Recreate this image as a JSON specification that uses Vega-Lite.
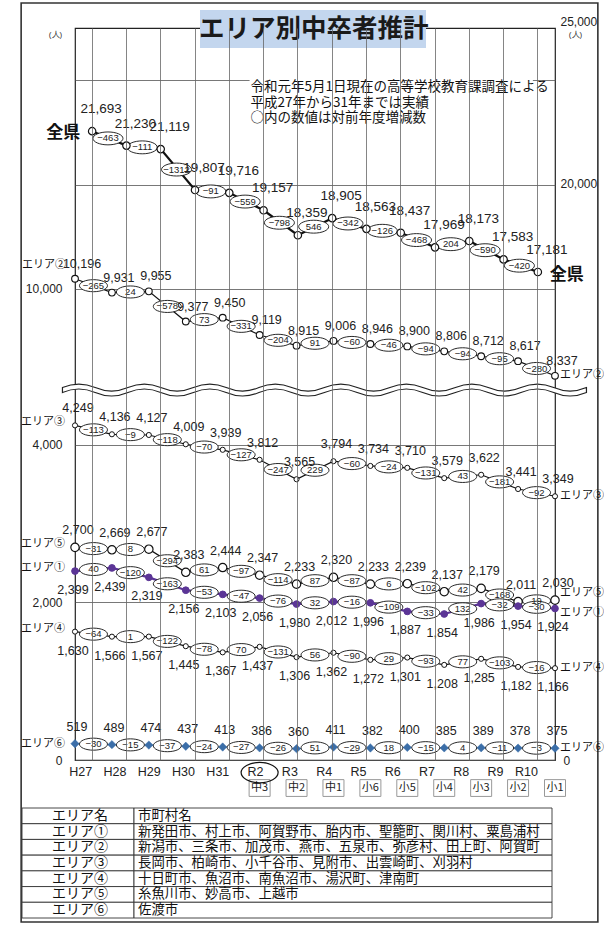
{
"$schema":"https://vega.github.io/schema/vega-lite/v6.json",
"width":480,"height":732,
"autosize":{"type":"none"},
"padding":{"left":75,"top":28,"right":49,"bottom":166},
"background":"white",
"config":{"view":{"stroke":"#222","strokeWidth":1.2}},
"datasets":{
"pts":[
{"area":"全県","year":"H27","fy":2015,"value":21693},
{"area":"全県","year":"H28","fy":2016,"value":21230,"diff":-463},
{"area":"全県","year":"H29","fy":2017,"value":21119,"diff":-111},
{"area":"全県","year":"H30","fy":2018,"value":19807,"diff":-1312},
{"area":"全県","year":"H31","fy":2019,"value":19716,"diff":-91},
{"area":"全県","year":"R2","fy":2020,"value":19157,"diff":-559},
{"area":"全県","year":"R3","fy":2021,"value":18359,"diff":-798},
{"area":"全県","year":"R4","fy":2022,"value":18905,"diff":546},
{"area":"全県","year":"R5","fy":2023,"value":18563,"diff":-342},
{"area":"全県","year":"R6","fy":2024,"value":18437,"diff":-126},
{"area":"全県","year":"R7","fy":2025,"value":17969,"diff":-468},
{"area":"全県","year":"R8","fy":2026,"value":18173,"diff":204},
{"area":"全県","year":"R9","fy":2027,"value":17583,"diff":-590},
{"area":"全県","year":"R10","fy":2028,"value":17181,"diff":-420},
{"area":"エリア②","year":"H27","fy":2015,"value":10196},
{"area":"エリア②","year":"H28","fy":2016,"value":9931,"diff":-265},
{"area":"エリア②","year":"H29","fy":2017,"value":9955,"diff":24},
{"area":"エリア②","year":"H30","fy":2018,"value":9377,"diff":-578},
{"area":"エリア②","year":"H31","fy":2019,"value":9450,"diff":73},
{"area":"エリア②","year":"R2","fy":2020,"value":9119,"diff":-331},
{"area":"エリア②","year":"R3","fy":2021,"value":8915,"diff":-204},
{"area":"エリア②","year":"R4","fy":2022,"value":9006,"diff":91},
{"area":"エリア②","year":"R5","fy":2023,"value":8946,"diff":-60},
{"area":"エリア②","year":"R6","fy":2024,"value":8900,"diff":-46},
{"area":"エリア②","year":"R7","fy":2025,"value":8806,"diff":-94},
{"area":"エリア②","year":"R8","fy":2026,"value":8712,"diff":-94},
{"area":"エリア②","year":"R9","fy":2027,"value":8617,"diff":-95},
{"area":"エリア②","year":"R10","fy":2028,"value":8337,"diff":-280},
{"area":"エリア③","year":"H27","fy":2015,"value":4249},
{"area":"エリア③","year":"H28","fy":2016,"value":4136,"diff":-113},
{"area":"エリア③","year":"H29","fy":2017,"value":4127,"diff":-9},
{"area":"エリア③","year":"H30","fy":2018,"value":4009,"diff":-118},
{"area":"エリア③","year":"H31","fy":2019,"value":3939,"diff":-70},
{"area":"エリア③","year":"R2","fy":2020,"value":3812,"diff":-127},
{"area":"エリア③","year":"R3","fy":2021,"value":3565,"diff":-247},
{"area":"エリア③","year":"R4","fy":2022,"value":3794,"diff":229},
{"area":"エリア③","year":"R5","fy":2023,"value":3734,"diff":-60},
{"area":"エリア③","year":"R6","fy":2024,"value":3710,"diff":-24},
{"area":"エリア③","year":"R7","fy":2025,"value":3579,"diff":-131},
{"area":"エリア③","year":"R8","fy":2026,"value":3622,"diff":43},
{"area":"エリア③","year":"R9","fy":2027,"value":3441,"diff":-181},
{"area":"エリア③","year":"R10","fy":2028,"value":3349,"diff":-92},
{"area":"エリア⑤","year":"H27","fy":2015,"value":2700},
{"area":"エリア⑤","year":"H28","fy":2016,"value":2669,"diff":-31},
{"area":"エリア⑤","year":"H29","fy":2017,"value":2677,"diff":8},
{"area":"エリア⑤","year":"H30","fy":2018,"value":2383,"diff":-294},
{"area":"エリア⑤","year":"H31","fy":2019,"value":2444,"diff":61},
{"area":"エリア⑤","year":"R2","fy":2020,"value":2347,"diff":-97},
{"area":"エリア⑤","year":"R3","fy":2021,"value":2233,"diff":-114},
{"area":"エリア⑤","year":"R4","fy":2022,"value":2320,"diff":87},
{"area":"エリア⑤","year":"R5","fy":2023,"value":2233,"diff":-87},
{"area":"エリア⑤","year":"R6","fy":2024,"value":2239,"diff":6},
{"area":"エリア⑤","year":"R7","fy":2025,"value":2137,"diff":-102},
{"area":"エリア⑤","year":"R8","fy":2026,"value":2179,"diff":42},
{"area":"エリア⑤","year":"R9","fy":2027,"value":2011,"diff":-168},
{"area":"エリア⑤","year":"R10","fy":2028,"value":2030,"diff":19},
{"area":"エリア①","year":"H27","fy":2015,"value":2399},
{"area":"エリア①","year":"H28","fy":2016,"value":2439,"diff":40},
{"area":"エリア①","year":"H29","fy":2017,"value":2319,"diff":-120},
{"area":"エリア①","year":"H30","fy":2018,"value":2156,"diff":-163},
{"area":"エリア①","year":"H31","fy":2019,"value":2103,"diff":-53},
{"area":"エリア①","year":"R2","fy":2020,"value":2056,"diff":-47},
{"area":"エリア①","year":"R3","fy":2021,"value":1980,"diff":-76},
{"area":"エリア①","year":"R4","fy":2022,"value":2012,"diff":32},
{"area":"エリア①","year":"R5","fy":2023,"value":1996,"diff":-16},
{"area":"エリア①","year":"R6","fy":2024,"value":1887,"diff":-109},
{"area":"エリア①","year":"R7","fy":2025,"value":1854,"diff":-33},
{"area":"エリア①","year":"R8","fy":2026,"value":1986,"diff":132},
{"area":"エリア①","year":"R9","fy":2027,"value":1954,"diff":-32},
{"area":"エリア①","year":"R10","fy":2028,"value":1924,"diff":-30},
{"area":"エリア④","year":"H27","fy":2015,"value":1630},
{"area":"エリア④","year":"H28","fy":2016,"value":1566,"diff":-64},
{"area":"エリア④","year":"H29","fy":2017,"value":1567,"diff":1},
{"area":"エリア④","year":"H30","fy":2018,"value":1445,"diff":-122},
{"area":"エリア④","year":"H31","fy":2019,"value":1367,"diff":-78},
{"area":"エリア④","year":"R2","fy":2020,"value":1437,"diff":70},
{"area":"エリア④","year":"R3","fy":2021,"value":1306,"diff":-131},
{"area":"エリア④","year":"R4","fy":2022,"value":1362,"diff":56},
{"area":"エリア④","year":"R5","fy":2023,"value":1272,"diff":-90},
{"area":"エリア④","year":"R6","fy":2024,"value":1301,"diff":29},
{"area":"エリア④","year":"R7","fy":2025,"value":1208,"diff":-93},
{"area":"エリア④","year":"R8","fy":2026,"value":1285,"diff":77},
{"area":"エリア④","year":"R9","fy":2027,"value":1182,"diff":-103},
{"area":"エリア④","year":"R10","fy":2028,"value":1166,"diff":-16},
{"area":"エリア⑥","year":"H27","fy":2015,"value":519},
{"area":"エリア⑥","year":"H28","fy":2016,"value":489,"diff":-30},
{"area":"エリア⑥","year":"H29","fy":2017,"value":474,"diff":-15},
{"area":"エリア⑥","year":"H30","fy":2018,"value":437,"diff":-37},
{"area":"エリア⑥","year":"H31","fy":2019,"value":413,"diff":-24},
{"area":"エリア⑥","year":"R2","fy":2020,"value":386,"diff":-27},
{"area":"エリア⑥","year":"R3","fy":2021,"value":360,"diff":-26},
{"area":"エリア⑥","year":"R4","fy":2022,"value":411,"diff":51},
{"area":"エリア⑥","year":"R5","fy":2023,"value":382,"diff":-29},
{"area":"エリア⑥","year":"R6","fy":2024,"value":400,"diff":18},
{"area":"エリア⑥","year":"R7","fy":2025,"value":385,"diff":-15},
{"area":"エリア⑥","year":"R8","fy":2026,"value":389,"diff":4},
{"area":"エリア⑥","year":"R9","fy":2027,"value":378,"diff":-11},
{"area":"エリア⑥","year":"R10","fy":2028,"value":375,"diff":-3}
],
"grades":[{"year":"R2","grade":"中3"},{"year":"R3","grade":"中2"},{"year":"R4","grade":"中1"},{"year":"R5","grade":"小6"},{"year":"R6","grade":"小5"},{"year":"R7","grade":"小4"},{"year":"R8","grade":"小3"},{"year":"R9","grade":"小2"},{"year":"R10","grade":"小1"}],
"tbl":[
{"area":"エリア名","cities":"市町村名"},
{"area":"エリア①","cities":"新発田市、村上市、阿賀野市、胎内市、聖籠町、関川村、粟島浦村"},
{"area":"エリア②","cities":"新潟市、三条市、加茂市、燕市、五泉市、弥彦村、田上町、阿賀町"},
{"area":"エリア③","cities":"長岡市、柏崎市、小千谷市、見附市、出雲崎町、刈羽村"},
{"area":"エリア④","cities":"十日町市、魚沼市、南魚沼市、湯沢町、津南町"},
{"area":"エリア⑤","cities":"糸魚川市、妙高市、上越市"},
{"area":"エリア⑥","cities":"佐渡市"}
]
},
"data":{"name":"pts"},
"resolve":{"scale":{"y":"independent","x":"independent"},"axis":{"y":"independent","x":"independent"}},
"layer":[
{"layer":[
 {"data":{"values":[{"n":1}]},
  "mark":{"type":"rect","filled":false,"stroke":"#333","strokeWidth":1.6,"xOffset":-71,"x2Offset":60},
  "encoding":{"x":{"datum":"H27","type":"ordinal","scale":{"domain":["H27","H28","H29","H30","H31","R2","R3","R4","R5","R6","R7","R8","R9","R10"],"padding":0}},"x2":{"datum":"R10"},"y":{"datum":25801,"type":"quantitative","scale":{"domain":[1538,25000],"nice":false,"zero":false}},"y2":{"datum":-3653}}},
 {"data":{"values":[{"n":1}]},
  "mark":{"type":"rect","fill":"#c3d6ee","xOffset":5,"x2Offset":-9},
  "encoding":{"x":{"datum":"H30","type":"ordinal","scale":{"domain":["H27","H28","H29","H30","H31","R2","R3","R4","R5","R6","R7","R8","R9","R10"],"padding":0}},"x2":{"datum":"R7"},"y":{"datum":25577,"type":"quantitative","scale":{"domain":[1538,25000],"nice":false,"zero":false}},"y2":{"datum":24359}}},
 {"data":{"values":[{"t":"エリア別中卒者推計"}]},
  "mark":{"type":"text","font":"Noto Sans CJK JP","fontSize":25.5,"fontWeight":"bold","color":"#1a1a1a","dx":16,"baseline":"middle"},
  "encoding":{"x":{"datum":"R3","type":"ordinal","scale":{"domain":["H27","H28","H29","H30","H31","R2","R3","R4","R5","R6","R7","R8","R9","R10"],"padding":0}},"y":{"datum":24952,"type":"quantitative","scale":{"domain":[1538,25000],"nice":false,"zero":false}},"text":{"field":"t","type":"nominal"}}},
 {"data":{"values":[{"n":1}]},
  "mark":{"type":"rect","fill":"white","xOffset":-14,"x2Offset":-5},
  "encoding":{"x":{"datum":"R2","type":"ordinal","scale":{"domain":["H27","H28","H29","H30","H31","R2","R3","R4","R5","R6","R7","R8","R9","R10"],"padding":0}},"x2":{"datum":"R10"},"y":{"datum":23429,"type":"quantitative","scale":{"domain":[1538,25000],"nice":false,"zero":false}},"y2":{"datum":21795}}},
 {"data":{"values":[{"n":1}]},
  "mark":{"type":"text","font":"Noto Sans CJK JP","fontSize":13.5,"align":"left","baseline":"top","lineHeight":15.5,"dx":-13,"color":"#111"},
  "encoding":{"x":{"datum":"R2","type":"ordinal","scale":{"domain":["H27","H28","H29","H30","H31","R2","R3","R4","R5","R6","R7","R8","R9","R10"],"padding":0}},"y":{"datum":23333,"type":"quantitative","scale":{"domain":[1538,25000],"nice":false,"zero":false}},"text":{"value":["令和元年5月1日現在の高等学校教育課調査による","平成27年から31年までは実績","○内の数値は対前年度増減数"]}}},
 {"transform":[{"filter":"datum.area == '全県'"}],
  "mark":{"type":"line","color":"#111","strokeWidth":2.2},
  "encoding":{
   "x":{"field":"year","type":"ordinal","scale":{"domain":["H27","H28","H29","H30","H31","R2","R3","R4","R5","R6","R7","R8","R9","R10"],"padding":0},"axis":{"title":null,"grid":true,"gridColor":"#666","gridWidth":0.8,"ticks":false,"domain":false,"labelPadding":11,"labelFontSize":12.5,"labelFont":"Liberation Sans","labelColor":"#222","labelAngle":0}},
   "y":{"field":"value","type":"quantitative","title":"(人)","scale":{"domain":[1538,25000],"nice":false,"zero":false},"axis":{"orient":"right","values":[20000,25000],"labelExpr":"format(datum.value, ',')","grid":false,"ticks":false,"domain":false,"labelPadding":5,"labelFontSize":12,"labelColor":"#222","labelBaseline":{"condition":{"test":"datum.value == 25000","value":"bottom"},"value":"middle"},"titleAngle":0,"titleX":20,"titleY":6,"titleFontSize":8,"titleFontWeight":"normal","titleAlign":"center","titleBaseline":"middle","titleColor":"#333"}}}},
 {"transform":[{"filter":"datum.area == '全県'"},{"window":[{"op":"mean","field":"value","as":"mid"}],"frame":[-1,0],"groupby":["area"],"sort":[{"field":"fy","order":"ascending"}]},{"filter":"isValid(datum.diff)"}],
  "mark":{"type":"point","shape":"M-1,0C-1,-0.24,-0.55,-0.43,0,-0.43C0.55,-0.43,1,-0.24,1,0C1,0.24,0.55,0.43,0,0.43C-0.55,0.43,-1,0.24,-1,0Z","size":900,"filled":true,"fill":"white","stroke":"#111","strokeWidth":0.9,"opacity":1,"xOffset":-18.46},
  "encoding":{"x":{"field":"year","type":"ordinal"},"y":{"field":"mid","type":"quantitative","title":"(人)","scale":{"domain":[1538,25000],"nice":false,"zero":false}}}},
 {"transform":[{"filter":"datum.area == '全県'"},{"window":[{"op":"mean","field":"value","as":"mid"}],"frame":[-1,0],"groupby":["area"],"sort":[{"field":"fy","order":"ascending"}]},{"filter":"isValid(datum.diff)"}],
  "mark":{"type":"text","font":"Liberation Sans","fontSize":9.5,"color":"#222","xOffset":-18.46,"baseline":"middle"},
  "encoding":{"x":{"field":"year","type":"ordinal"},"y":{"field":"mid","type":"quantitative","title":"(人)","scale":{"domain":[1538,25000],"nice":false,"zero":false}},"text":{"field":"diff","type":"quantitative","format":"d"}}},
 {"transform":[{"filter":"datum.area == '全県'"}],
  "mark":{"type":"point","shape":"circle","filled":true,"fill":"white","stroke":"#111","strokeWidth":1.2,"size":55,"opacity":1},
  "encoding":{"x":{"field":"year","type":"ordinal"},"y":{"field":"value","type":"quantitative","title":"(人)","scale":{"domain":[1538,25000],"nice":false,"zero":false}}}},
 {"transform":[{"filter":"datum.area == '全県'"}],
  "mark":{"type":"text","font":"Liberation Sans","fontSize":13.5,"dx":9,"dy":-22,"color":"#222"},
  "encoding":{"x":{"field":"year","type":"ordinal"},"y":{"field":"value","type":"quantitative","title":"(人)","scale":{"domain":[1538,25000],"nice":false,"zero":false}},"text":{"field":"value","type":"quantitative","format":","}}},
 {"transform":[{"filter":"datum.area == '全県' && datum.year == 'H27'"}],
  "mark":{"type":"text","font":"Noto Sans CJK JP","fontSize":17,"fontWeight":"bold","align":"right","dx":-12,"dy":2,"color":"#111"},
  "encoding":{"x":{"field":"year","type":"ordinal"},"y":{"field":"value","type":"quantitative","title":"(人)","scale":{"domain":[1538,25000],"nice":false,"zero":false}},"text":{"field":"area","type":"nominal"}}},
 {"transform":[{"filter":"datum.area == '全県' && datum.year == 'R10'"}],
  "mark":{"type":"text","font":"Noto Sans CJK JP","fontSize":17,"fontWeight":"bold","align":"left","dx":12,"dy":3,"color":"#111"},
  "encoding":{"x":{"field":"year","type":"ordinal"},"y":{"field":"value","type":"quantitative","title":"(人)","scale":{"domain":[1538,25000],"nice":false,"zero":false}},"text":{"field":"area","type":"nominal"}}}
]},
{"layer":[
 {"transform":[{"filter":"datum.area == 'エリア②'"}],
  "mark":{"type":"line","color":"#111","strokeWidth":1.2},
  "encoding":{"x":{"field":"year","type":"ordinal","scale":{"domain":["H27","H28","H29","H30","H31","R2","R3","R4","R5","R6","R7","R8","R9","R10"],"padding":0},"axis":null},
   "y":{"field":"value","type":"quantitative","title":"(人)","scale":{"domain":[977,15000],"nice":false,"zero":false},"axis":{"orient":"left","values":[10000,12000,14000],"labelExpr":"datum.value == 10000 ? '10,000' : ''","grid":true,"gridColor":"#555","gridWidth":0.8,"ticks":false,"domain":false,"labelPadding":13,"labelFontSize":12,"labelColor":"#222","titleAngle":0,"titleX":-20,"titleY":6,"titleFontSize":8,"titleFontWeight":"normal","titleAlign":"center","titleBaseline":"middle","titleColor":"#333"}}}},
 {"transform":[{"filter":"datum.area == 'エリア②'"},{"window":[{"op":"mean","field":"value","as":"mid"}],"frame":[-1,0],"groupby":["area"],"sort":[{"field":"fy","order":"ascending"}]},{"filter":"isValid(datum.diff)"}],
  "mark":{"type":"point","shape":"M-1,0C-1,-0.24,-0.55,-0.43,0,-0.43C0.55,-0.43,1,-0.24,1,0C1,0.24,0.55,0.43,0,0.43C-0.55,0.43,-1,0.24,-1,0Z","size":784,"filled":true,"fill":"white","stroke":"#111","strokeWidth":0.9,"opacity":1,"xOffset":-18.46},
  "encoding":{"x":{"field":"year","type":"ordinal","axis":null},"y":{"field":"mid","type":"quantitative","title":"(人)","scale":{"domain":[977,15000],"nice":false,"zero":false}}}},
 {"transform":[{"filter":"datum.area == 'エリア②'"},{"window":[{"op":"mean","field":"value","as":"mid"}],"frame":[-1,0],"groupby":["area"],"sort":[{"field":"fy","order":"ascending"}]},{"filter":"isValid(datum.diff)"}],
  "mark":{"type":"text","font":"Liberation Sans","fontSize":9.5,"color":"#222","xOffset":-18.46,"baseline":"middle"},
  "encoding":{"x":{"field":"year","type":"ordinal","axis":null},"y":{"field":"mid","type":"quantitative","title":"(人)","scale":{"domain":[977,15000],"nice":false,"zero":false}},"text":{"field":"diff","type":"quantitative","format":"d"}}},
 {"transform":[{"filter":"datum.area == 'エリア②'"}],
  "mark":{"type":"point","shape":"circle","filled":true,"fill":"white","stroke":"#111","strokeWidth":1.1,"size":45,"opacity":1},
  "encoding":{"x":{"field":"year","type":"ordinal","axis":null},"y":{"field":"value","type":"quantitative","title":"(人)","scale":{"domain":[977,15000],"nice":false,"zero":false}}}},
 {"transform":[{"filter":"datum.area == 'エリア②'"}],
  "mark":{"type":"text","font":"Liberation Sans","fontSize":12.5,"dx":7,"dy":-15,"color":"#222"},
  "encoding":{"x":{"field":"year","type":"ordinal","axis":null},"y":{"field":"value","type":"quantitative","title":"(人)","scale":{"domain":[977,15000],"nice":false,"zero":false}},"text":{"field":"value","type":"quantitative","format":","}}},
 {"transform":[{"filter":"datum.area == 'エリア②' && datum.year == 'H27'"}],
  "mark":{"type":"text","font":"Noto Sans CJK JP","fontSize":11,"align":"right","dx":-9,"dy":-14,"color":"#111"},
  "encoding":{"x":{"field":"year","type":"ordinal","axis":null},"y":{"field":"value","type":"quantitative","title":"(人)","scale":{"domain":[977,15000],"nice":false,"zero":false}},"text":{"field":"area","type":"nominal"}}},
 {"transform":[{"filter":"datum.area == 'エリア②' && datum.year == 'R10'"}],
  "mark":{"type":"text","font":"Noto Sans CJK JP","fontSize":11,"align":"left","dx":5,"dy":-1,"color":"#111"},
  "encoding":{"x":{"field":"year","type":"ordinal","axis":null},"y":{"field":"value","type":"quantitative","title":"(人)","scale":{"domain":[977,15000],"nice":false,"zero":false}},"text":{"field":"area","type":"nominal"}}}
]},
{"layer":[
 {"data":{"values":[{"n":1}]},
  "mark":{"type":"point","shape":"M-1,-0.0095Q-0.9375,-0.0362,-0.875,-0.0095T-0.75,-0.0095T-0.625,-0.0095T-0.5,-0.0095T-0.375,-0.0095T-0.25,-0.0095T-0.125,-0.0095T0,-0.0095T0.125,-0.0095T0.25,-0.0095T0.375,-0.0095T0.5,-0.0095T0.625,-0.0095T0.75,-0.0095T0.875,-0.0095T1,-0.0095L1,0.0095Q0.9375,0.0362,0.875,0.0095T0.75,0.0095T0.625,0.0095T0.5,0.0095T0.375,0.0095T0.25,0.0095T0.125,0.0095T0,0.0095T-0.125,0.0095T-0.25,0.0095T-0.375,0.0095T-0.5,0.0095T-0.625,0.0095T-0.75,0.0095T-0.875,0.0095T-1,0.0095Z","size":274576,"filled":true,"fill":"white","stroke":"#222","strokeWidth":1.2,"opacity":1,"xOffset":-9},
  "encoding":{"x":{"datum":"R4","type":"ordinal","scale":{"domain":["H27","H28","H29","H30","H31","R2","R3","R4","R5","R6","R7","R8","R9","R10"],"padding":0},"axis":null},"y":{"datum":4698,"type":"quantitative","scale":{"domain":[0,9295],"nice":false,"zero":false}}}},
 {"data":{"name":"grades"},
  "mark":{"type":"point","shape":"M-1,-0.8L1,-0.8L1,0.8L-1,0.8Z","size":441,"filled":true,"fill":"white","stroke":"#999","strokeWidth":1,"opacity":1},
  "encoding":{"x":{"field":"year","type":"ordinal","scale":{"domain":["H27","H28","H29","H30","H31","R2","R3","R4","R5","R6","R7","R8","R9","R10"],"padding":0},"axis":null},"y":{"datum":-356,"type":"quantitative","scale":{"domain":[0,9295],"nice":false,"zero":false}}}},
 {"data":{"name":"grades"},
  "mark":{"type":"text","font":"Noto Sans CJK JP","fontSize":11,"color":"#222","baseline":"middle"},
  "encoding":{"x":{"field":"year","type":"ordinal","axis":null},"y":{"datum":-356,"type":"quantitative","scale":{"domain":[0,9295],"nice":false,"zero":false}},"text":{"field":"grade","type":"nominal"}}},
 {"data":{"values":[{"year":"R2"}]},
  "mark":{"type":"point","shape":"M-1,0C-1,-0.3,-0.55,-0.55,0,-0.55C0.55,-0.55,1,-0.3,1,0C1,0.3,0.55,0.55,0,0.55C-0.55,0.55,-1,0.3,-1,0Z","size":1369,"filled":false,"stroke":"#111","strokeWidth":1.2,"opacity":1},
  "encoding":{"x":{"field":"year","type":"ordinal","axis":null},"y":{"datum":-160,"type":"quantitative","scale":{"domain":[0,9295],"nice":false,"zero":false}}}},
 {"transform":[{"filter":"indexof(['エリア③','エリア④','エリア⑤'], datum.area) >= 0"}],
  "mark":{"type":"line","color":"#111","strokeWidth":1.2},
  "encoding":{"x":{"field":"year","type":"ordinal","axis":null},"detail":{"field":"area","type":"nominal"},
   "y":{"field":"value","type":"quantitative","title":null,"scale":{"domain":[0,9295],"nice":false,"zero":false},"axis":{"orient":"left","values":[0,2000,4000],"labelExpr":"format(datum.value, ',')","grid":true,"gridColor":"#555","gridWidth":0.8,"ticks":false,"domain":false,"labelPadding":13,"labelFontSize":12,"labelColor":"#222"}}}},
 {"transform":[{"filter":"datum.area == 'エリア①'"}],
  "mark":{"type":"line","color":"#5b3596","strokeWidth":2.2},
  "encoding":{"x":{"field":"year","type":"ordinal","axis":null},"y":{"field":"value","type":"quantitative","title":null,"scale":{"domain":[0,9295],"nice":false,"zero":false}}}},
 {"transform":[{"filter":"indexof(['エリア①','エリア③','エリア④','エリア⑤'], datum.area) >= 0"},{"window":[{"op":"mean","field":"value","as":"mid"}],"frame":[-1,0],"groupby":["area"],"sort":[{"field":"fy","order":"ascending"}]},{"filter":"isValid(datum.diff)"}],
  "mark":{"type":"point","shape":"M-1,0C-1,-0.24,-0.55,-0.43,0,-0.43C0.55,-0.43,1,-0.24,1,0C1,0.24,0.55,0.43,0,0.43C-0.55,0.43,-1,0.24,-1,0Z","size":784,"filled":true,"fill":"white","stroke":"#111","strokeWidth":0.9,"opacity":1,"xOffset":-18.46},
  "encoding":{"x":{"field":"year","type":"ordinal","axis":null},"y":{"field":"mid","type":"quantitative","title":null,"scale":{"domain":[0,9295],"nice":false,"zero":false}}}},
 {"transform":[{"filter":"indexof(['エリア①','エリア③','エリア④','エリア⑤'], datum.area) >= 0"},{"window":[{"op":"mean","field":"value","as":"mid"}],"frame":[-1,0],"groupby":["area"],"sort":[{"field":"fy","order":"ascending"}]},{"filter":"isValid(datum.diff)"}],
  "mark":{"type":"text","font":"Liberation Sans","fontSize":9.5,"color":"#222","xOffset":-18.46,"baseline":"middle"},
  "encoding":{"x":{"field":"year","type":"ordinal","axis":null},"y":{"field":"mid","type":"quantitative","title":null,"scale":{"domain":[0,9295],"nice":false,"zero":false}},"text":{"field":"diff","type":"quantitative","format":"d"}}},
 {"transform":[{"filter":"datum.area == 'エリア⑤'"}],
  "mark":{"type":"point","shape":"circle","filled":true,"fill":"white","stroke":"#111","strokeWidth":1.2,"size":70,"opacity":1},
  "encoding":{"x":{"field":"year","type":"ordinal","axis":null},"y":{"field":"value","type":"quantitative","title":null,"scale":{"domain":[0,9295],"nice":false,"zero":false}}}},
 {"transform":[{"filter":"datum.area == 'エリア③' || datum.area == 'エリア④'"}],
  "mark":{"type":"point","shape":"circle","filled":true,"fill":"white","stroke":"#111","strokeWidth":1,"size":26,"opacity":1},
  "encoding":{"x":{"field":"year","type":"ordinal","axis":null},"y":{"field":"value","type":"quantitative","title":null,"scale":{"domain":[0,9295],"nice":false,"zero":false}}}},
 {"transform":[{"filter":"datum.area == 'エリア①'"}],
  "mark":{"type":"point","shape":"circle","filled":true,"fill":"#5b3596","stroke":"#5b3596","strokeWidth":1,"size":45,"opacity":1},
  "encoding":{"x":{"field":"year","type":"ordinal","axis":null},"y":{"field":"value","type":"quantitative","title":null,"scale":{"domain":[0,9295],"nice":false,"zero":false}}}},
 {"transform":[{"filter":"datum.area == 'エリア③' || datum.area == 'エリア⑤'"}],
  "mark":{"type":"text","font":"Liberation Sans","fontSize":12.5,"dx":3,"dy":-17,"color":"#222"},
  "encoding":{"x":{"field":"year","type":"ordinal","axis":null},"y":{"field":"value","type":"quantitative","title":null,"scale":{"domain":[0,9295],"nice":false,"zero":false}},"text":{"field":"value","type":"quantitative","format":","}}},
 {"transform":[{"filter":"datum.area == 'エリア①' || datum.area == 'エリア④'"}],
  "mark":{"type":"text","font":"Liberation Sans","fontSize":12.5,"dx":-2,"dy":19,"color":"#222"},
  "encoding":{"x":{"field":"year","type":"ordinal","axis":null},"y":{"field":"value","type":"quantitative","title":null,"scale":{"domain":[0,9295],"nice":false,"zero":false}},"text":{"field":"value","type":"quantitative","format":","}}},
 {"transform":[{"filter":"datum.year == 'H27' && indexof(['エリア①','エリア③','エリア④','エリア⑤'], datum.area) >= 0"}],
  "mark":{"type":"text","font":"Noto Sans CJK JP","fontSize":11,"align":"right","dx":-10,"dy":-3,"color":"#111"},
  "encoding":{"x":{"field":"year","type":"ordinal","axis":null},"y":{"field":"value","type":"quantitative","title":null,"scale":{"domain":[0,9295],"nice":false,"zero":false}},"text":{"field":"area","type":"nominal"}}},
 {"transform":[{"filter":"datum.year == 'R10' && (datum.area == 'エリア③' || datum.area == 'エリア④')"}],
  "mark":{"type":"text","font":"Noto Sans CJK JP","fontSize":11,"align":"left","dx":5,"dy":0,"color":"#111"},
  "encoding":{"x":{"field":"year","type":"ordinal","axis":null},"y":{"field":"value","type":"quantitative","title":null,"scale":{"domain":[0,9295],"nice":false,"zero":false}},"text":{"field":"area","type":"nominal"}}},
 {"transform":[{"filter":"datum.year == 'R10' && datum.area == 'エリア⑤'"}],
  "mark":{"type":"text","font":"Noto Sans CJK JP","fontSize":11,"align":"left","dx":5,"dy":-7,"color":"#111"},
  "encoding":{"x":{"field":"year","type":"ordinal","axis":null},"y":{"field":"value","type":"quantitative","title":null,"scale":{"domain":[0,9295],"nice":false,"zero":false}},"text":{"field":"area","type":"nominal"}}},
 {"transform":[{"filter":"datum.year == 'R10' && datum.area == 'エリア①'"}],
  "mark":{"type":"text","font":"Noto Sans CJK JP","fontSize":11,"align":"left","dx":5,"dy":5,"color":"#111"},
  "encoding":{"x":{"field":"year","type":"ordinal","axis":null},"y":{"field":"value","type":"quantitative","title":null,"scale":{"domain":[0,9295],"nice":false,"zero":false}},"text":{"field":"area","type":"nominal"}}}
]},
{"layer":[
 {"transform":[{"filter":"datum.area == 'エリア⑥'"}],
  "mark":{"type":"line","color":"#333","strokeWidth":1},
  "encoding":{"x":{"field":"year","type":"ordinal","scale":{"domain":["H27","H28","H29","H30","H31","R2","R3","R4","R5","R6","R7","R8","R9","R10"],"padding":0},"axis":null},
   "y":{"field":"value","type":"quantitative","title":null,"scale":{"domain":[0,23300],"nice":false,"zero":false},"axis":{"orient":"right","values":[0],"labelExpr":"'0'","grid":false,"ticks":false,"domain":false,"labelPadding":8,"labelFontSize":12,"labelColor":"#222"}}}},
 {"transform":[{"filter":"datum.area == 'エリア⑥'"},{"window":[{"op":"mean","field":"value","as":"mid"}],"frame":[-1,0],"groupby":["area"],"sort":[{"field":"fy","order":"ascending"}]},{"filter":"isValid(datum.diff)"}],
  "mark":{"type":"point","shape":"M-1,0C-1,-0.24,-0.55,-0.43,0,-0.43C0.55,-0.43,1,-0.24,1,0C1,0.24,0.55,0.43,0,0.43C-0.55,0.43,-1,0.24,-1,0Z","size":784,"filled":true,"fill":"white","stroke":"#111","strokeWidth":0.9,"opacity":1,"xOffset":-18.46},
  "encoding":{"x":{"field":"year","type":"ordinal","axis":null},"y":{"field":"mid","type":"quantitative","title":null,"scale":{"domain":[0,23300],"nice":false,"zero":false}}}},
 {"transform":[{"filter":"datum.area == 'エリア⑥'"},{"window":[{"op":"mean","field":"value","as":"mid"}],"frame":[-1,0],"groupby":["area"],"sort":[{"field":"fy","order":"ascending"}]},{"filter":"isValid(datum.diff)"}],
  "mark":{"type":"text","font":"Liberation Sans","fontSize":9.5,"color":"#222","xOffset":-18.46,"baseline":"middle"},
  "encoding":{"x":{"field":"year","type":"ordinal","axis":null},"y":{"field":"mid","type":"quantitative","title":null,"scale":{"domain":[0,23300],"nice":false,"zero":false}},"text":{"field":"diff","type":"quantitative","format":"d"}}},
 {"transform":[{"filter":"datum.area == 'エリア⑥'"}],
  "mark":{"type":"point","shape":"diamond","filled":true,"fill":"#3b6ea8","stroke":"#3b6ea8","strokeWidth":0.5,"size":70,"opacity":1},
  "encoding":{"x":{"field":"year","type":"ordinal","axis":null},"y":{"field":"value","type":"quantitative","title":null,"scale":{"domain":[0,23300],"nice":false,"zero":false}}}},
 {"transform":[{"filter":"datum.area == 'エリア⑥'"}],
  "mark":{"type":"text","font":"Liberation Sans","fontSize":12.5,"dx":2,"dy":-17,"color":"#222"},
  "encoding":{"x":{"field":"year","type":"ordinal","axis":null},"y":{"field":"value","type":"quantitative","title":null,"scale":{"domain":[0,23300],"nice":false,"zero":false}},"text":{"field":"value","type":"quantitative","format":","}}},
 {"transform":[{"filter":"datum.area == 'エリア⑥' && datum.year == 'H27'"}],
  "mark":{"type":"text","font":"Noto Sans CJK JP","fontSize":11,"align":"right","dx":-10,"dy":0,"color":"#111"},
  "encoding":{"x":{"field":"year","type":"ordinal","axis":null},"y":{"field":"value","type":"quantitative","title":null,"scale":{"domain":[0,23300],"nice":false,"zero":false}},"text":{"field":"area","type":"nominal"}}},
 {"transform":[{"filter":"datum.area == 'エリア⑥' && datum.year == 'R10'"}],
  "mark":{"type":"text","font":"Noto Sans CJK JP","fontSize":11,"align":"left","dx":5,"dy":0,"color":"#111"},
  "encoding":{"x":{"field":"year","type":"ordinal","axis":null},"y":{"field":"value","type":"quantitative","title":null,"scale":{"domain":[0,23300],"nice":false,"zero":false}},"text":{"field":"area","type":"nominal"}}}
]},
{"data":{"name":"tbl"},
 "layer":[
 {"mark":{"type":"rect","fill":"white","stroke":"#333","strokeWidth":0.9},
  "encoding":{"x":{"datum":0,"type":"quantitative","scale":{"domain":[0,530],"range":[-53,477],"nice":false,"zero":false},"axis":null},"x2":{"datum":112},"y":{"field":"area","type":"ordinal","scale":{"domain":["エリア名","エリア①","エリア②","エリア③","エリア④","エリア⑤","エリア⑥"],"range":[780,890],"paddingInner":0,"paddingOuter":0},"axis":null}}},
 {"mark":{"type":"rect","fill":"white","stroke":"#333","strokeWidth":0.9},
  "encoding":{"x":{"datum":112,"type":"quantitative","scale":{"domain":[0,530],"range":[-53,477],"nice":false,"zero":false},"axis":null},"x2":{"datum":530},"y":{"field":"area","type":"ordinal","scale":{"domain":["エリア名","エリア①","エリア②","エリア③","エリア④","エリア⑤","エリア⑥"],"range":[780,890],"paddingInner":0,"paddingOuter":0},"axis":null}}},
 {"mark":{"type":"text","font":"Noto Sans CJK JP","fontSize":14,"align":"center","baseline":"middle","color":"#111"},
  "encoding":{"x":{"datum":58,"type":"quantitative","scale":{"domain":[0,530],"range":[-53,477],"nice":false,"zero":false},"axis":null},"y":{"field":"area","type":"ordinal","scale":{"domain":["エリア名","エリア①","エリア②","エリア③","エリア④","エリア⑤","エリア⑥"],"range":[780,890],"paddingInner":0,"paddingOuter":0},"axis":null},"text":{"field":"area","type":"nominal"}}},
 {"mark":{"type":"text","font":"Noto Sans CJK JP","fontSize":13.4,"align":"left","baseline":"middle","color":"#111"},
  "encoding":{"x":{"datum":116,"type":"quantitative","scale":{"domain":[0,530],"range":[-53,477],"nice":false,"zero":false},"axis":null},"y":{"field":"area","type":"ordinal","scale":{"domain":["エリア名","エリア①","エリア②","エリア③","エリア④","エリア⑤","エリア⑥"],"range":[780,890],"paddingInner":0,"paddingOuter":0},"axis":null},"text":{"field":"cities","type":"nominal"}}}
 ]}
]
}
